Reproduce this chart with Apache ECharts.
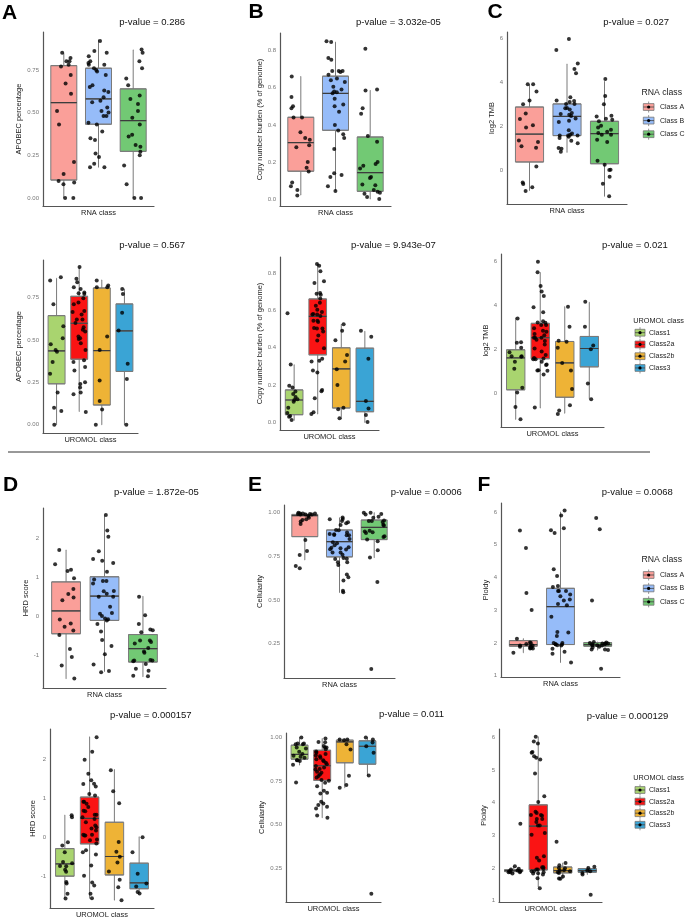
<!DOCTYPE html>
<html><head><meta charset="utf-8">
<script src="https://cdn.jsdelivr.net/npm/echarts@6/dist/echarts.min.js"></script>
<style>html,body{margin:0;padding:0;background:#fff}#c{width:685px;height:920px}</style>
</head><body><div id="c"></div>
<script>
// ---------- categories ----------
const rnaClasses = ['Class A', 'Class B', 'Class C'];
const uromolClasses = ['Class1', 'Class2a', 'Class2b', 'Class3'];

// ---------- tick labels ----------
const apobecTicks = [0, 0.25, 0.5, 0.75];
const cnbTicks = [0, 0.2, 0.4, 0.6, 0.8];
const tmbTicks = [0, 2, 4, 6];
const hrdTicks = [-1, 0, 1, 2];
const cellTicks = [0.25, 0.5, 0.75, 1.0];
const ploidyTicks = [1, 2, 3, 4, 5, 6];

// ---------- p-values ----------
const pValuesRna = ['0.286', '3.032e-05', '0.027', '1.872e-05', '0.0006', '0.0068'];
const pValuesUromol = ['0.567', '9.943e-07', '0.021', '0.000157', '0.011', '0.000129'];

// ---------- box stats [min, Q1, median, Q3, max] and points ----------
const apobecRnaBox = [[0, 0.105, 0.558, 0.775, 0.847], [0.18, 0.432, 0.580, 0.760, 0.926], [0, 0.273, 0.453, 0.639, 0.867]];
const apobecRnaPts = [
  [0.85,0.82,0.80,0.80,0.78,0.77,0.72,0.67,0.61,0.51,0.43,0.21,0.14,0.10,0.09,0.08,0.0,0.0],
  [0.92,0.86,0.85,0.83,0.80,0.79,0.78,0.76,0.78,0.75,0.74,0.72,0.66,0.65,0.62,0.63,0.59,0.57,0.56,0.53,0.51,0.50,0.48,0.48,0.43,0.44,0.39,0.35,0.34,0.26,0.24,0.20,0.18,0.18],
  [0.87,0.85,0.80,0.76,0.70,0.66,0.60,0.58,0.51,0.55,0.47,0.43,0.36,0.37,0.31,0.30,0.25,0.27,0.19,0.08,0,0]
];
const cnbRnaBox = [[0.023, 0.151, 0.305, 0.441, 0.660], [0.047, 0.371, 0.569, 0.662, 0.845], [0.002, 0.043, 0.143, 0.335, 0.585]];
const cnbRnaPts = [
  [0.66,0.55,0.50,0.49,0.44,0.44,0.36,0.33,0.32,0.29,0.28,0.20,0.17,0.15,0.09,0.07,0.05,0.02],
  [0.845,0.85,0.76,0.75,0.69,0.69,0.69,0.685,0.67,0.65,0.64,0.63,0.605,0.59,0.58,0.575,0.57,0.54,0.51,0.50,0.47,0.40,0.37,0.35,0.33,0.27,0.14,0.13,0.12,0.07,0.045],
  [0.81,0.59,0.585,0.49,0.46,0.34,0.31,0.18,0.20,0.19,0.165,0.12,0.115,0.08,0.075,0.05,0.035,0.04,0.03,0.013,0.002]
];
const tmbRnaBox = [[-0.92, 0.38, 1.65, 2.88, 3.88], [0.82, 1.58, 2.45, 3.02, 4.83], [-1.18, 0.30, 1.67, 2.23, 4.05]];
const tmbRnaPts = [
  [3.91,3.91,3.59,3.18,3.0,2.58,2.33,2.05,1.95,1.36,1.29,1.09,1.03,0.18,-0.55,-0.62,-0.77,-0.94],
  [5.97,5.47,4.86,4.61,4.41,3.32,3.18,3.15,3.11,3.02,3.02,2.83,2.77,2.82,2.61,2.53,2.56,2.47,2.36,2.26,2.20,1.82,1.68,1.62,1.59,1.58,1.53,1.58,1.35,1.47,1.23,1.02,0.98,0.85],
  [4.15,3.38,3.0,2.45,2.35,2.48,2.30,2.23,2.03,1.95,1.85,1.76,1.70,1.62,1.62,1.39,1.29,0.44,0.26,0.03,0.02,-0.29,-0.61,-1.18]
];
const apobecUroBox = [[0, 0.241, 0.435, 0.643, 0.863], [0.078, 0.386, 0.598, 0.757, 0.925], [0, 0.116, 0.437, 0.806, 0.853], [0, 0.314, 0.553, 0.712, 0.80]];
const apobecUroPts = [
  [0.85,0.87,0.71,0.58,0.51,0.475,0.43,0.44,0.37,0.30,0.19,0.10,0.08,0],
  [0.93,0.86,0.84,0.80,0.81,0.78,0.775,0.77,0.745,0.72,0.71,0.665,0.67,0.65,0.62,0.62,0.60,0.575,0.56,0.55,0.52,0.51,0.505,0.48,0.44,0.38,0.37,0.34,0.32,0.25,0.24,0.22,0.19,0.18,0.075],
  [0.85,0.82,0.81,0.81,0.52,0.44,0.26,0.14,0.09,0],
  [0.80,0.77,0.66,0.555,0.36,0.27,0]
];
const cnbUroBox = [[0.011, 0.041, 0.120, 0.174, 0.309], [0.045, 0.362, 0.569, 0.662, 0.850], [0.018, 0.077, 0.287, 0.400, 0.526], [0.0, 0.057, 0.113, 0.398, 0.488]];
const cnbUroPts = [
  [0.585,0.31,0.197,0.187,0.165,0.152,0.136,0.124,0.12,0.111,0.079,0.05,0.03,0.034,0.013],
  [0.85,0.84,0.81,0.757,0.748,0.685,0.69,0.694,0.664,0.642,0.626,0.604,0.592,0.581,0.578,0.578,0.57,0.545,0.538,0.545,0.504,0.506,0.504,0.466,0.439,0.488,0.398,0.341,0.33,0.326,0.267,0.278,0.174,0.167,0.129,0.054,0.045],
  [0.526,0.491,0.441,0.361,0.326,0.285,0.201,0.079,0.07,0.022],
  [0.491,0.459,0.341,0.115,0.075,0.039,0.002]
];
const tmbUroBox = [[-1.21, 0.14, 1.60, 1.97, 3.43], [-0.69, 1.56, 2.52, 3.18, 5.50], [-0.93, -0.20, 1.37, 2.35, 3.94], [-0.27, 1.19, 2.03, 2.58, 4.14]];
const tmbUroPts = [
  [3.40,2.32,2.29,2.06,1.86,1.68,1.68,1.65,1.42,1.10,0.24,0.02,-0.64,-1.21],
  [6.0,5.51,4.89,4.64,4.43,3.92,3.69,3.22,3.21,3.28,3.10,3.10,2.95,2.84,2.69,2.64,2.79,2.52,2.52,2.52,2.43,2.37,2.21,2.03,1.89,1.57,1.54,1.60,1.73,1.54,1.42,1.27,1.30,1.04,1.02,1.01,0.84,-0.67],
  [3.94,3.02,2.38,2.34,2.06,1.37,1.02,0.18,-0.56,-0.81,-0.96],
  [4.17,3.02,2.17,2.0,0.43,-0.29]
];
const hrdRnaBox = [[-1.58, -0.44, 0.14, 0.88, 1.69], [-1.40, -0.10, 0.52, 1.01, 2.56], [-1.53, -1.16, -0.82, -0.46, 0.51]];
const hrdRnaPts = [
  [1.69,1.19,1.16,1.33,0.97,0.70,0.57,0.48,0.41,-0.08,-0.18,-0.26,-0.36,-0.47,-0.83,-1.03,-1.25,-1.58],
  [2.58,2.19,2.03,1.66,1.46,1.42,1.36,1.14,0.94,0.90,0.90,0.84,0.64,0.65,0.58,0.50,0.50,0.25,0.09,0.07,0.01,-0.05,-0.07,-0.10,-0.19,-0.38,-0.60,-0.75,-0.96,-1.22,-1.39,-1.42],
  [0.50,0.03,-0.19,-0.35,-0.33,-0.40,-0.61,-0.61,-0.69,-0.65,-0.80,-0.89,-0.92,-1.11,-1.14,-1.12,-1.12,-1.21,-1.33,-1.38,-1.51,-1.52]
];
const cellRnaBox = [[0.73, 0.863, 0.983, 0.990, 1.0], [0.543, 0.747, 0.834, 0.901, 0.971], [0.743, 0.846, 0.916, 0.958, 1.0]];
const cellRnaPts = [
  [0.996,0.992,0.996,1.0,0.989,0.990,0.996,0.992,0.981,0.990,0.971,0.958,0.962,0.950,0.935,0.844,0.781,0.758,0.695,0.682],
  [0.973,0.952,0.964,0.962,0.945,0.939,0.930,0.901,0.899,0.886,0.878,0.872,0.871,0.871,0.876,0.850,0.831,0.813,0.825,0.802,0.800,0.796,0.789,0.791,0.772,0.772,0.760,0.741,0.735,0.737,0.716,0.716,0.701,0.646,0.631,0.612,0.545,0.553],
  [1.0,0.989,0.992,1.0,0.977,0.971,0.956,0.952,0.952,0.947,0.931,0.926,0.897,0.888,0.893,0.884,0.865,0.861,0.846,0.836,0.785,0.743,0.604,0.105]
];
const ploidyRnaBox = [[1.70, 1.90, 1.95, 2.07, 2.13], [1.40, 1.95, 3.11, 3.67, 6.0], [1.78, 1.90, 1.95, 2.01, 2.03]];
const ploidyRnaPts = [
  [5.44,4.90,3.53,3.01,2.13,2.01,1.97,1.92,2.00,1.92,1.85,1.83,1.88,1.85,1.83,1.88,1.70,1.88],
  [6.05,5.90,5.51,5.36,5.45,4.25,4.05,3.74,3.71,3.59,3.59,3.59,3.48,3.43,3.33,3.30,3.15,3.19,2.80,2.33,2.32,2.21,2.00,1.96,1.92,1.93,1.96,1.95,2.00,1.82,1.73,1.67,1.40],
  [5.82,5.48,3.30,2.03,2.00,1.98,1.98,2.01,1.98,1.95,1.93,1.92,1.93,1.86,1.78,1.80,1.80,1.88,1.96,1.21]
];
const hrdUroBox = [[-1.53, -0.97, -0.66, -0.27, 0.58], [-1.53, -0.15, 0.50, 1.04, 2.57], [-1.58, -0.94, -0.47, 0.40, 1.74], [-1.37, -1.29, -1.14, -0.64, 0.03]];
const hrdUroPts = [
  [0.58,0.53,-0.11,-0.19,-0.36,-0.61,-0.64,-0.72,-0.71,-0.81,-0.86,-1.12,-1.16,-1.42,-1.54],
  [2.56,2.19,1.99,1.63,1.47,1.37,1.31,1.38,1.12,1.08,0.92,0.92,0.87,0.79,0.69,0.68,0.59,0.59,0.53,0.48,0.40,0.32,0.27,0.24,0.19,0.08,0.08,0.06,0.06,-0.04,-0.06,-0.14,-0.31,-0.36,-0.42,-0.70,-0.96,-1.13,-1.21,-1.42,-1.53],
  [1.72,1.19,0.88,-0.10,-0.35,-0.48,-0.62,-0.85,-1.06,-1.25,-1.58],
  [0.02,-0.36,-0.91,-1.16,-1.23,-1.41,-1.37]
];
const cellUroBox = [[0.842, 0.876, 0.903, 0.956, 1.0], [0.54, 0.754, 0.838, 0.927, 0.994], [0.712, 0.855, 0.975, 0.985, 0.994], [0.782, 0.847, 0.950, 0.981, 1.0]];
const cellUroPts = [
  [1.0,0.966,0.962,0.966,0.962,0.943,0.937,0.918,0.905,0.895,0.889,0.884,0.870,0.870,0.866,0.844,0.742],
  [0.994,0.973,0.975,0.952,0.943,0.943,0.933,0.920,0.912,0.905,0.897,0.893,0.884,0.876,0.870,0.864,0.855,0.847,0.836,0.828,0.817,0.819,0.803,0.798,0.788,0.779,0.771,0.756,0.752,0.740,0.721,0.695,0.683,0.679,0.632,0.622,0.613,0.603,0.593,0.553,0.540],
  [0.989,0.989,0.985,0.962,0.931,0.781,0.727,0.712],
  [1.0,0.989,0.971,0.950,0.912,0.782,0.103]
];
const ploidyUroBox = [[1.83, 1.89, 1.92, 1.95, 2.05], [1.42, 1.94, 3.28, 3.93, 6.01], [1.67, 1.85, 1.92, 2.03, 2.15], [1.80, 1.87, 1.92, 1.98, 2.04]];
const ploidyUroPts = [
  [3.35,2.05,1.98,1.95,1.92,1.90,1.83,1.87,1.87,1.87,1.90],
  [6.01,5.87,5.81,5.55,5.52,5.37,5.42,5.32,4.89,4.19,4.02,3.72,3.68,3.60,3.62,3.62,3.50,3.50,3.41,3.30,3.30,3.07,3.02,2.36,2.31,2.23,2.02,2.02,1.97,1.95,1.95,1.90,1.90,1.87,1.84,1.80,1.83,1.69,1.38],
  [2.80,2.15,2.08,2.0,1.99,1.93,1.92,1.90,1.85,1.87,1.74,1.68,1.67],
  [2.04,2.0,1.92,1.90,1.85,1.80,1.18]
];

// ---------- styles ----------
const rnaColors = ['#FA9F99', '#96BCF9', '#72C974'];
const uromolColors = ['#A9D46F', '#FA1414', '#EEB336', '#3AA4D5'];
const FONT = '"Liberation Sans", Arial, sans-serif';

// ---------- panel layout ----------
const panels = [
  {box: apobecRnaBox, pts: apobecRnaPts, cats: rnaClasses, colors: rnaColors, ticks: apobecTicks, dec: 2, yName: 'APOBEC percentage', xName: 'RNA class', p: pValuesRna[0], letter: 'A',
   L: 43, T: 32, R: 154, B: 206, min: -0.047, max: 0.972, yGap: 17, px: 119.3, py: 22.7, lx: 2, ly: 13},
  {box: cnbRnaBox, pts: cnbRnaPts, cats: rnaClasses, colors: rnaColors, ticks: cnbTicks, dec: 1, yName: 'Copy number burden (% of genome)', xName: 'RNA class', p: pValuesRna[1], letter: 'B',
   L: 280, T: 33, R: 391, B: 206, min: -0.036, max: 0.894, yGap: 13, px: 356, py: 22.7, lx: 248.5, ly: 12.5},
  {box: tmbRnaBox, pts: tmbRnaPts, cats: rnaClasses, colors: rnaColors, ticks: tmbTicks, dec: 0, yName: 'log2 TMB', xName: 'RNA class', p: pValuesRna[2], letter: 'C',
   L: 507, T: 32, R: 627, B: 204, min: -1.53, max: 6.29, yGap: 9.3, px: 603.3, py: 22.7, lx: 487.5, ly: 12.5},
  {box: apobecUroBox, pts: apobecUroPts, cats: uromolClasses, colors: uromolColors, ticks: apobecTicks, dec: 2, yName: 'APOBEC percentage', xName: 'UROMOL class', p: pValuesUromol[0], letter: '',
   L: 43, T: 260, R: 138, B: 433, min: -0.049, max: 0.971, yGap: 16.6, px: 119.3, py: 245},
  {box: cnbUroBox, pts: cnbUroPts, cats: uromolClasses, colors: uromolColors, ticks: cnbTicks, dec: 1, yName: 'Copy number burden (% of genome)', xName: 'UROMOL class', p: pValuesUromol[1], letter: '',
   L: 280, T: 257, R: 379, B: 430, min: -0.041, max: 0.887, yGap: 13, px: 351, py: 245},
  {box: tmbUroBox, pts: tmbUroPts, cats: uromolClasses, colors: uromolColors, ticks: tmbTicks, dec: 0, yName: 'log2 TMB', xName: 'UROMOL class', p: pValuesUromol[2], letter: '',
   L: 501, T: 254, R: 604, B: 427, min: -1.56, max: 6.35, yGap: 9.3, px: 602, py: 245.7},
  {box: hrdRnaBox, pts: hrdRnaPts, cats: rnaClasses, colors: rnaColors, ticks: hrdTicks, dec: 0, yName: 'HRD score', xName: 'RNA class', p: pValuesRna[3], letter: 'D',
   L: 43, T: 508, R: 166, B: 688, min: -1.82, max: 2.76, yGap: 12.6, px: 114, py: 492.3, lx: 3, ly: 485},
  {box: cellRnaBox, pts: cellRnaPts, cats: rnaClasses, colors: rnaColors, ticks: cellTicks, dec: 2, yName: 'Cellularity', xName: 'RNA class', p: pValuesRna[4], letter: 'E',
   L: 284, T: 505, R: 395, B: 678, min: 0.054, max: 1.044, yGap: 17.6, px: 390.7, py: 492.3, lx: 248, ly: 485},
  {box: ploidyRnaBox, pts: ploidyRnaPts, cats: rnaClasses, colors: rnaColors, ticks: ploidyTicks, dec: 0, yName: 'Ploidy', xName: 'RNA class', p: pValuesRna[5], letter: 'F',
   L: 501, T: 503, R: 620, B: 677, min: 0.957, max: 6.28, yGap: 8.7, px: 601.7, py: 492.3, lx: 477.5, ly: 485},
  {box: hrdUroBox, pts: hrdUroPts, cats: uromolClasses, colors: uromolColors, ticks: hrdTicks, dec: 0, yName: 'HRD score', xName: 'UROMOL class', p: pValuesUromol[3], letter: '',
   L: 50, T: 729, R: 154, B: 909, min: -1.805, max: 2.77, yGap: 13, px: 110, py: 715},
  {box: cellUroBox, pts: cellUroPts, cats: uromolClasses, colors: uromolColors, ticks: cellTicks, dec: 2, yName: 'Cellularity', xName: 'UROMOL class', p: pValuesUromol[4], letter: '',
   L: 286, T: 733, R: 381, B: 902, min: 0.056, max: 1.026, yGap: 18, px: 379, py: 714},
  {box: ploidyUroBox, pts: ploidyUroPts, cats: uromolClasses, colors: uromolColors, ticks: ploidyTicks, dec: 0, yName: 'Ploidy', xName: 'UROMOL class', p: pValuesUromol[5], letter: '',
   L: 499, T: 729, R: 602, B: 902, min: 0.96, max: 6.25, yGap: 9.3, px: 586.7, py: 716.7}
];

const legends = [
  {title: 'RNA class', cats: rnaClasses, colors: rnaColors, tx: 641.5, ty: 92.3, y0: 107, step: 13.6, kx: 643.3, kw: 10.7, lx: 660, tf: 8.7},
  {title: 'UROMOL class', cats: uromolClasses, colors: uromolColors, tx: 633.3, ty: 321, y0: 332.7, step: 11.75, kx: 635, kw: 10, lx: 649, tf: 7.3},
  {title: 'RNA class', cats: rnaClasses, colors: rnaColors, tx: 641.5, ty: 560, y0: 575, step: 13.4, kx: 643.3, kw: 10.7, lx: 660, tf: 8.7},
  {title: 'UROMOL class', cats: uromolClasses, colors: uromolColors, tx: 633.3, ty: 778.3, y0: 790, step: 11.6, kx: 635, kw: 10, lx: 649, tf: 7.3}
];

// ---------- build option ----------
const option = {animation: false, backgroundColor: '#fff', grid: [], xAxis: [], yAxis: [], series: [], graphic: []};
const axisLineStyle = {color: '#555', width: 1.2};
const nameStyle = {fontSize: 7.5, color: '#222', fontFamily: FONT};

panels.forEach(p => {
  const n = p.cats.length;
  const W = p.R - p.L, H = p.B - p.T;
  const u = W / (n + 0.2);
  const gOuter = option.grid.length;
  option.grid.push({left: p.L, top: p.T, width: W, height: H, containLabel: false});
  option.grid.push({left: p.L + 0.1 * u, top: p.T, width: n * u, height: H, containLabel: false});
  const gInner = gOuter + 1;

  option.xAxis.push({gridIndex: gOuter, type: 'category', data: [''], position: 'bottom',
    axisLine: {onZero: false, lineStyle: axisLineStyle},
    axisTick: {show: false}, axisLabel: {show: false}, splitLine: {show: false},
    name: p.xName, nameLocation: 'middle', nameGap: 3, nameTextStyle: nameStyle});
  option.yAxis.push({gridIndex: gOuter, type: 'value', min: p.min, max: p.max, position: 'left',
    axisLine: {show: true, onZero: false, lineStyle: axisLineStyle}, axisTick: {show: false}, splitLine: {show: false},
    axisLabel: {customValues: p.ticks, formatter: v => v.toFixed(p.dec), fontSize: 6, color: '#777', margin: 4, fontFamily: FONT},
    name: p.yName, nameLocation: 'middle', nameGap: p.yGap, nameTextStyle: nameStyle});

  const xi = option.xAxis.length;
  for (let k = 0; k < 3; k++) {
    option.xAxis.push({gridIndex: gInner, type: 'category', data: p.cats, show: false,
      axisLine: {onZero: false}, jitter: k === 0 ? 0.6 * u : 0, jitterOverlap: true});
  }
  const yi = option.yAxis.length;
  option.yAxis.push({gridIndex: gInner, type: 'value', min: p.min, max: p.max, show: false, splitLine: {show: false}});

  const bw = 0.75 * u;
  // whiskers
  option.series.push({type: 'boxplot', xAxisIndex: xi, yAxisIndex: yi, silent: true, boxWidth: [0.5, 0.5],
    itemStyle: {color: '#7a7a7a', borderColor: '#7a7a7a', borderWidth: 1}, data: p.box, z: 1});
  // boxes (Q1..Q3)
  option.series.push({type: 'boxplot', xAxisIndex: xi + 1, yAxisIndex: yi, silent: true, boxWidth: [bw, bw],
    itemStyle: {borderColor: '#7a7a7a', borderWidth: 1},
    data: p.box.map((b, i) => ({value: [b[1], b[1], b[2], b[3], b[3]], itemStyle: {color: p.colors[i]}})), z: 2});
  // medians
  option.series.push({type: 'boxplot', xAxisIndex: xi + 2, yAxisIndex: yi, silent: true, boxWidth: [bw, bw],
    itemStyle: {color: 'none', borderColor: '#3c3c3c', borderWidth: 1.2},
    data: p.box.map(b => [b[2], b[2], b[2], b[2], b[2]]), z: 3});
  // jittered points
  const sd = [];
  p.pts.forEach((arr, i) => arr.forEach(v => sd.push([i, v])));
  option.series.push({type: 'scatter', xAxisIndex: xi, yAxisIndex: yi, silent: true, symbolSize: 4,
    itemStyle: {color: '#000'}, data: sd, z: 5});

  option.graphic.push({type: 'text', silent: true, style: {text: 'p-value = ' + p.p, x: p.px, y: p.py,
    verticalAlign: 'middle', font: '9.5px ' + FONT, fill: '#111'}});
  if (p.letter) {
    option.graphic.push({type: 'text', silent: true, style: {text: p.letter, x: p.lx, y: p.ly,
      verticalAlign: 'middle', font: 'bold 21px ' + FONT, fill: '#000'}});
  }
});

legends.forEach(lg => {
  option.graphic.push({type: 'text', silent: true, style: {text: lg.title, x: lg.tx, y: lg.ty, verticalAlign: 'middle',
    font: lg.tf + 'px ' + FONT, fill: '#222'}});
  lg.cats.forEach((c, i) => {
    const y = lg.y0 + i * lg.step;
    const cx = lg.kx + lg.kw / 2;
    option.graphic.push({type: 'line', silent: true, shape: {x1: cx, y1: y - 5.5, x2: cx, y2: y + 5.5}, style: {stroke: '#777', lineWidth: 0.8}});
    option.graphic.push({type: 'rect', silent: true, shape: {x: lg.kx, y: y - 3.4, width: lg.kw, height: 6.8},
      style: {fill: lg.colors[i], stroke: '#777', lineWidth: 0.8}});
    option.graphic.push({type: 'line', silent: true, shape: {x1: lg.kx, y1: y, x2: lg.kx + lg.kw, y2: y}, style: {stroke: '#444', lineWidth: 0.8}});
    option.graphic.push({type: 'circle', silent: true, shape: {cx: cx, cy: y, r: 1.6}, style: {fill: '#000'}});
    option.graphic.push({type: 'text', silent: true, style: {text: c, x: lg.lx, y: y, verticalAlign: 'middle',
      font: '7px ' + FONT, fill: '#222'}});
  });
});

// separator between the two figure halves
option.graphic.push({type: 'line', silent: true, shape: {x1: 8, y1: 452, x2: 650, y2: 452}, style: {stroke: '#333', lineWidth: 1}});

const chart = echarts.init(document.getElementById('c'), null, {renderer: 'canvas'});
chart.setOption(option);
</script>
</body></html>
